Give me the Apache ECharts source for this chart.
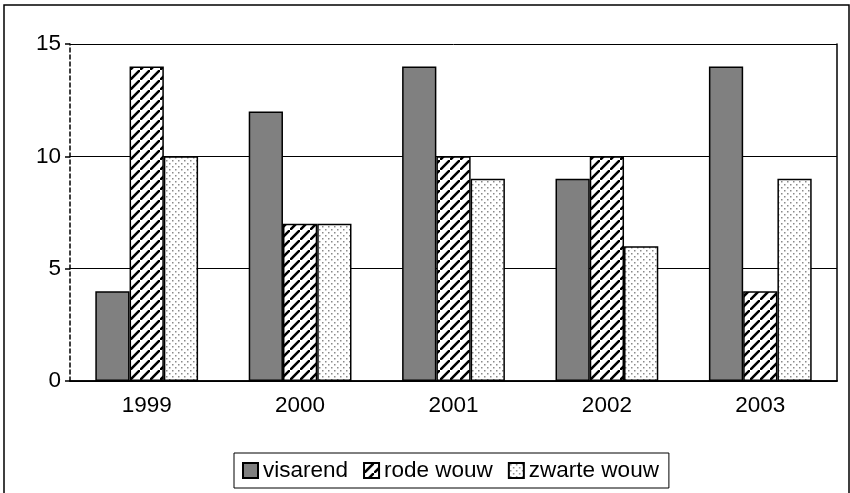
<!DOCTYPE html>
<html>
<head>
<meta charset="utf-8">
<script src="https://cdn.jsdelivr.net/npm/echarts@6/dist/echarts.min.js"></script>
<style>
  html, body { margin: 0; padding: 0; background: #fff; }
  #chart { width: 850px; height: 493px; }
</style>
</head>
<body>
<div id="chart"></div>
<script>
var years = ['1999', '2000', '2001', '2002', '2003'];
var visarend = [4, 12, 14, 9, 14];
var rodeWouw = [14, 7, 10, 10, 4];
var zwarteWouw = [10, 7, 9, 6, 9];
var yTicks = [0, 5, 10, 15];

// diagonal stripe tile for "rode wouw"
function stripeTile() {
  var s = 10;
  var c = document.createElement('canvas');
  c.width = s; c.height = s;
  var ctx = c.getContext('2d');
  ctx.fillStyle = '#fff';
  ctx.fillRect(0, 0, s, s);
  ctx.strokeStyle = '#000';
  ctx.lineWidth = 2.6;
  ctx.beginPath();
  ctx.moveTo(-2, s + 2); ctx.lineTo(s + 2, -2);
  ctx.moveTo(-s - 2, 2); ctx.lineTo(2, -s - 2);
  ctx.moveTo(-2, 2 * s + 2); ctx.lineTo(2 * s + 2, 2);
  ctx.stroke();
  return c;
}

// staggered dots tile for "zwarte wouw"
function dotTile() {
  var c = document.createElement('canvas');
  c.width = 6; c.height = 6;
  var ctx = c.getContext('2d');
  ctx.fillStyle = '#fff';
  ctx.fillRect(0, 0, 6, 6);
  ctx.fillStyle = '#8a8a8a';
  ctx.fillRect(1, 1, 1.5, 1.5);
  ctx.fillRect(4, 4, 1.5, 1.5);
  return c;
}

var font = 'Liberation Sans, Arial, sans-serif';
var stripes = { image: stripeTile(), repeat: 'repeat' };
var dots = { image: dotTile(), repeat: 'repeat' };
var legendBox = { borderColor: '#000', borderWidth: 2 };

var chart = echarts.init(document.getElementById('chart'));

var option = {
  animation: false,
  backgroundColor: '#fff',
  graphic: [{
    type: 'rect',
    shape: { x: 4, y: 5, width: 845, height: 495 },
    style: { fill: 'none', stroke: '#000', lineWidth: 1.5 },
    silent: true
  }],
  legend: {
    left: 234,
    top: 453,
    padding: [6, 10, 6, 8],
    itemGap: 15,
    itemWidth: 15,
    itemHeight: 15,
    icon: 'rect',
    borderColor: '#000',
    borderWidth: 1,
    textStyle: { fontFamily: font, fontSize: 22.5, color: '#000' },
    data: [
      { name: 'visarend', itemStyle: Object.assign({ color: '#808080' }, legendBox) },
      { name: 'rode wouw', itemStyle: Object.assign({ color: stripes }, legendBox) },
      { name: 'zwarte wouw', itemStyle: Object.assign({ color: dots }, legendBox) }
    ]
  },
  grid: { left: 70, right: 13, top: 44, bottom: 112, containLabel: false },
  xAxis: [{
    type: 'category',
    data: years,
    axisLine: { lineStyle: { color: '#000', width: 1.5 } },
    axisTick: { show: false },
    axisLabel: { fontFamily: font, fontSize: 22.5, color: '#000', margin: 13 }
  }, {
    type: 'category',
    data: years,
    position: 'top',
    axisLine: { lineStyle: { color: '#000', width: 1.5 } },
    axisTick: { show: false },
    axisLabel: { show: false }
  }],
  yAxis: [{
    type: 'value',
    min: yTicks[0],
    max: yTicks[yTicks.length - 1],
    interval: 5,
    axisLine: { show: true, lineStyle: { color: '#000', width: 1.5, type: [4, 3] } },
    axisTick: { show: true, length: 5, lineStyle: { color: '#000', width: 1.5 } },
    axisLabel: { fontFamily: font, fontSize: 22.5, color: '#000', margin: 9 },
    splitLine: { show: true, lineStyle: { color: '#000', width: 1 } }
  }, {
    type: 'value',
    position: 'right',
    min: yTicks[0],
    max: yTicks[yTicks.length - 1],
    interval: 5,
    axisLine: { show: true, lineStyle: { color: '#000', width: 1.5 } },
    axisTick: { show: false },
    axisLabel: { show: false },
    splitLine: { show: false }
  }],
  series: [{
    name: 'visarend',
    type: 'bar',
    data: visarend,
    barGap: '0%',
    barCategoryGap: '33%',
    itemStyle: { color: '#808080', borderColor: '#000', borderWidth: 1.5 }
  }, {
    name: 'rode wouw',
    type: 'bar',
    data: rodeWouw,
    itemStyle: { color: stripes, borderColor: '#000', borderWidth: 1.5 }
  }, {
    name: 'zwarte wouw',
    type: 'bar',
    data: zwarteWouw,
    itemStyle: { color: dots, borderColor: '#000', borderWidth: 1.5 }
  }]
};

chart.setOption(option);
</script>
</body>
</html>
